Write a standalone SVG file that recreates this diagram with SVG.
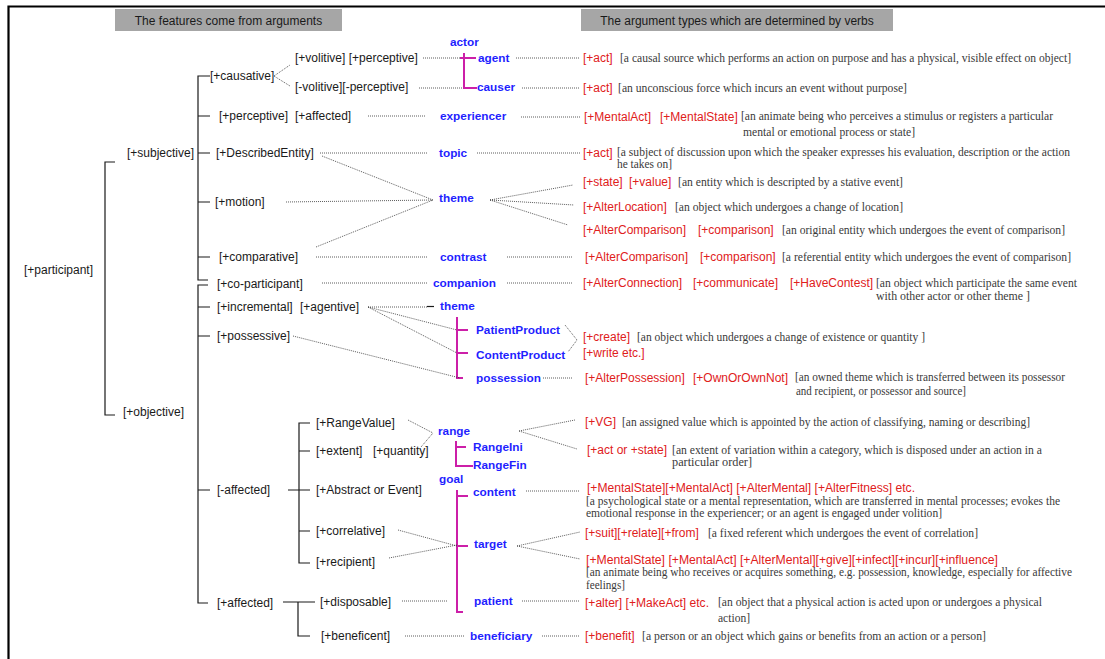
<svg xmlns="http://www.w3.org/2000/svg" width="1105" height="659" viewBox="0 0 1105 659">
<style>
.lb{font-family:"Liberation Sans",Arial,sans-serif;font-size:12px;fill:#1a1a1a}
.hd{font-family:"Liberation Sans",Arial,sans-serif;font-size:12px;fill:#1a1a1a;text-anchor:middle}
.bl{font-family:"Liberation Sans",Arial,sans-serif;font-size:11.8px;font-weight:bold;fill:#1f1fff}
.rd{font-family:"Liberation Sans",Arial,sans-serif;font-size:12px;fill:#e0201b}
.ds{font-family:"Liberation Serif","Times New Roman",serif;font-size:12px;fill:#3a3a3a}
.dot{fill:none;stroke:#333;stroke-width:0.8;stroke-dasharray:1 1}
.sol{fill:none;stroke:#1a1a1a;stroke-width:1.2}
.mg{fill:none;stroke:#cc1fa8;stroke-width:2}
</style>
<rect width="1105" height="659" fill="#fff"/>
<path d="M8.5,659 V6.5 H1105" fill="none" stroke="#000" stroke-width="2.2"/>
<g id="headers">
<rect x="115" y="9" width="227" height="22" fill="#a6a6a6"/>
<text class="hd" x="228.5" y="24.5">The features come from arguments</text>
<rect x="581" y="9" width="312" height="22" fill="#a6a6a6"/>
<text class="hd" x="737" y="24.5">The argument types which are determined by verbs</text>
</g>
<g id="connectors">
<path class="sol" d="M115,162 H105 V415 H115"/>
<path class="sol" d="M210,76 H198 V280 H208 M198,116 H210 M198,153 H210 M198,202 H210 M198,257 H210"/>
<path class="sol" d="M208,285 H198 V603 H208 M198,307 H210 M198,336 H210 M198,490 H210"/>
<path class="sol" d="M288,490 H310 M310,423 H299 V563 H310 M299,451 H310 M299,531 H310"/>
<path class="sol" d="M283,602 H315 M298,602 V636 H310"/>
<path class="sol" d="M427,306.5 H434"/>
<path class="mg" d="M460,58 H476 M464,53 V88 H477"/>
<path class="mg" d="M457,317 V379 M457,330 H468 M457,353 H468 M457,378 H463"/>
<path class="mg" d="M456,441 V466 H473 M456,447 H466"/>
<path class="mg" d="M457,490 V612 H463 M457,496 H468 M457,546 H468"/>
<path class="dot" d="M274,76 L290,65 M274,76 L290,86"/>
<path class="dot" d="M423,58 H460 M419,88 H463 M516,58 H580 M522,88 H580"/>
<path class="dot" d="M368,116 H425 M521,117 H580"/>
<path class="dot" d="M320,153 H427 M322,156 L433,200 M286,202 L433,200 M316,247 L433,200 M316,257 H428 M477,153 H580"/>
<path class="dot" d="M490,200 L573,185 M490,200 L574,205 M490,200 L568,225 M507,257 H573"/>
<path class="dot" d="M322,283 H427 M507,283 H573"/>
<path class="dot" d="M368,307 H427 M368,307 L457,330 M368,307 L457,353 M293,336 L460,378"/>
<path class="dot" d="M565,325 L577,340 L568,352 M543,378 H573"/>
<path class="dot" d="M408,420 L433,433 M421,447 L433,433 M519,431 L575,420 M519,431 L577,449"/>
<path class="dot" d="M526,491 H580 M398,530 L457,546 M389,558 L457,545 M517,546 L580,532 M517,546 L580,559"/>
<path class="dot" d="M402,601 H447 M522,601 H580 M405,636 H465 M542,636 H580"/>
</g>
<g id="n-participant"><text class="lb" x="24" y="274">[+participant]</text></g>
<g id="n-subjective"><text class="lb" x="127" y="157">[+subjective]</text></g>
<g id="n-objective"><text class="lb" x="123" y="416">[+objective]</text></g>
<g id="n-causative"><text class="lb" x="210" y="80">[+causative]</text></g>
<g id="n-volitive"><text class="lb" x="295" y="62">[+volitive] [+perceptive]</text></g>
<g id="n-nonvolitive"><text class="lb" x="295" y="91">[-volitive][-perceptive]</text></g>
<g id="n-perceptive"><text class="lb" y="120"><tspan x="219">[+perceptive]</tspan><tspan x="295">[+affected]</tspan></text></g>
<g id="n-described"><text class="lb" x="216" y="157">[+DescribedEntity]</text></g>
<g id="n-motion"><text class="lb" x="215" y="206">[+motion]</text></g>
<g id="n-comparative"><text class="lb" x="219" y="261">[+comparative]</text></g>
<g id="n-coparticipant"><text class="lb" x="217" y="288">[+co-participant]</text></g>
<g id="n-incremental"><text class="lb" y="311"><tspan x="217">[+incremental]</tspan><tspan x="300">[+agentive]</tspan></text></g>
<g id="n-possessive"><text class="lb" x="217" y="340">[+possessive]</text></g>
<g id="n-naffected"><text class="lb" x="217" y="494">[-affected]</text></g>
<g id="n-paffected"><text class="lb" x="217" y="607">[+affected]</text></g>
<g id="n-rangevalue"><text class="lb" x="316" y="427">[+RangeValue]</text></g>
<g id="n-extent"><text class="lb" y="455"><tspan x="316">[+extent]</tspan><tspan x="373">[+quantity]</tspan></text></g>
<g id="n-abstract"><text class="lb" x="316" y="494">[+Abstract or Event]</text></g>
<g id="n-correlative"><text class="lb" x="316" y="535">[+correlative]</text></g>
<g id="n-recipient"><text class="lb" x="316" y="566">[+recipient]</text></g>
<g id="n-disposable"><text class="lb" x="320" y="606">[+disposable]</text></g>
<g id="n-beneficent"><text class="lb" x="321" y="640">[+beneficent]</text></g>
<g id="a-actor"><text class="bl" x="450" y="46">actor</text></g>
<g id="a-agent"><text class="bl" x="478" y="62">agent</text></g>
<g id="a-causer"><text class="bl" x="477" y="91">causer</text></g>
<g id="a-experiencer"><text class="bl" x="440" y="120">experiencer</text></g>
<g id="a-topic"><text class="bl" x="439" y="157">topic</text></g>
<g id="a-theme"><text class="bl" x="439" y="202">theme</text></g>
<g id="a-contrast"><text class="bl" x="440" y="261">contrast</text></g>
<g id="a-companion"><text class="bl" x="433" y="287">companion</text></g>
<g id="a-theme2"><text class="bl" x="440" y="310">theme</text></g>
<g id="a-patientproduct"><text class="bl" x="476" y="334">PatientProduct</text></g>
<g id="a-contentproduct"><text class="bl" x="476" y="359">ContentProduct</text></g>
<g id="a-possession"><text class="bl" x="476" y="382">possession</text></g>
<g id="a-range"><text class="bl" x="438" y="435">range</text></g>
<g id="a-rangeini"><text class="bl" x="473" y="451">RangeIni</text></g>
<g id="a-rangefin"><text class="bl" x="473" y="469">RangeFin</text></g>
<g id="a-goal"><text class="bl" x="439" y="483">goal</text></g>
<g id="a-content"><text class="bl" x="473" y="496">content</text></g>
<g id="a-target"><text class="bl" x="474" y="548">target</text></g>
<g id="a-patient"><text class="bl" x="474" y="605">patient</text></g>
<g id="a-beneficiary"><text class="bl" x="470" y="640">beneficiary</text></g>
<g id="v-agent"><text class="rd" x="583" y="62">[+act]</text>
<text class="ds" x="620" y="62" textLength="451" lengthAdjust="spacingAndGlyphs">[a causal source which performs an action on purpose and has a physical, visible effect on object]</text></g>
<g id="v-causer"><text class="rd" x="583" y="92">[+act]</text>
<text class="ds" x="618" y="92" textLength="289" lengthAdjust="spacingAndGlyphs">[an unconscious force which incurs an event without purpose]</text></g>
<g id="v-experiencer"><text class="rd" y="121"><tspan x="584">[+MentalAct]</tspan><tspan x="660">[+MentalState]</tspan></text>
<text class="ds" x="741" y="120" textLength="312" lengthAdjust="spacingAndGlyphs">[an animate being who perceives a stimulus or registers a particular</text>
<text class="ds" x="743" y="136" textLength="172" lengthAdjust="spacingAndGlyphs">mental or emotional process or state]</text></g>
<g id="v-topic"><text class="rd" x="583" y="157">[+act]</text>
<text class="ds" x="617" y="156" textLength="453" lengthAdjust="spacingAndGlyphs">[a subject of discussion upon which the speaker expresses his evaluation, description or the action</text>
<text class="ds" x="617" y="168" textLength="55" lengthAdjust="spacingAndGlyphs">he takes on]</text></g>
<g id="v-state"><text class="rd" y="186"><tspan x="583">[+state]</tspan><tspan x="629">[+value]</tspan></text>
<text class="ds" x="678" y="186" textLength="225" lengthAdjust="spacingAndGlyphs">[an entity which is descripted by a stative event]</text></g>
<g id="v-location"><text class="rd" x="583" y="211">[+AlterLocation]</text>
<text class="ds" x="675" y="211" textLength="228" lengthAdjust="spacingAndGlyphs">[an object which undergoes a change of location]</text></g>
<g id="v-comparison1"><text class="rd" y="234"><tspan x="583">[+AlterComparison]</tspan><tspan x="698">[+comparison]</tspan></text>
<text class="ds" x="782" y="234" textLength="283" lengthAdjust="spacingAndGlyphs">[an original entity which undergoes the event of comparison]</text></g>
<g id="v-comparison2"><text class="rd" y="261"><tspan x="585">[+AlterComparison]</tspan><tspan x="700">[+comparison]</tspan></text>
<text class="ds" x="782" y="261" textLength="289" lengthAdjust="spacingAndGlyphs">[a referential entity which undergoes the event of comparison]</text></g>
<g id="v-companion"><text class="rd" y="287"><tspan x="583">[+AlterConnection]</tspan><tspan x="693">[+communicate]</tspan><tspan x="790">[+HaveContest]</tspan></text>
<text class="ds" x="876" y="287" textLength="201" lengthAdjust="spacingAndGlyphs">[an object which participate the same event</text>
<text class="ds" x="876" y="300" textLength="154" lengthAdjust="spacingAndGlyphs">with other actor or other theme ]</text></g>
<g id="v-create"><text class="rd" x="583" y="341">[+create]</text>
<text class="ds" x="637" y="341" textLength="288" lengthAdjust="spacingAndGlyphs">[an object which undergoes a change of existence or quantity ]</text>
<text class="rd" x="583" y="357">[+write etc.]</text></g>
<g id="v-possession"><text class="rd" y="382"><tspan x="585">[+AlterPossession]</tspan><tspan x="693">[+OwnOrOwnNot]</tspan></text>
<text class="ds" x="795" y="381" textLength="270" lengthAdjust="spacingAndGlyphs">[an owned theme which is transferred between its possessor</text>
<text class="ds" x="796" y="395" textLength="170" lengthAdjust="spacingAndGlyphs">and recipient, or possessor and source]</text></g>
<g id="v-vg"><text class="rd" x="585" y="426">[+VG]</text>
<text class="ds" x="622" y="426" textLength="408" lengthAdjust="spacingAndGlyphs">[an assigned value which is appointed by the action of classifying, naming or describing]</text></g>
<g id="v-range"><text class="rd" x="587" y="454">[+act or +state]</text>
<text class="ds" x="672" y="454" textLength="370" lengthAdjust="spacingAndGlyphs">[an extent of variation within a category, which is disposed under an action in a</text>
<text class="ds" x="672" y="466" textLength="80" lengthAdjust="spacingAndGlyphs">particular order]</text></g>
<g id="v-content"><text class="rd" x="587" y="492" textLength="328" lengthAdjust="spacingAndGlyphs">[+MentalState][+MentalAct] [+AlterMental] [+AlterFitness] etc.</text>
<text class="ds" x="586" y="505" textLength="474" lengthAdjust="spacingAndGlyphs">[a psychological state or a mental representation, which are transferred in mental processes; evokes the</text>
<text class="ds" x="586" y="517" textLength="356" lengthAdjust="spacingAndGlyphs">emotional response in the experiencer; or an agent is engaged under volition]</text></g>
<g id="v-target1"><text class="rd" x="585" y="537">[+suit][+relate][+from]</text>
<text class="ds" x="708" y="537" textLength="270" lengthAdjust="spacingAndGlyphs">[a fixed referent which undergoes the event of correlation]</text></g>
<g id="v-target2"><text class="rd" x="586" y="564" textLength="412" lengthAdjust="spacingAndGlyphs">[+MentalState] [+MentalAct] [+AlterMental][+give][+infect][+incur][+influence]</text>
<text class="ds" x="586" y="576" textLength="486" lengthAdjust="spacingAndGlyphs">[an animate being who receives or acquires something, e.g. possession, knowledge, especially for affective</text>
<text class="ds" x="586" y="589" textLength="39" lengthAdjust="spacingAndGlyphs">feelings]</text></g>
<g id="v-patient"><text class="rd" x="585" y="607" textLength="124" lengthAdjust="spacingAndGlyphs">[+alter]  [+MakeAct] etc.</text>
<text class="ds" x="718" y="606" textLength="324" lengthAdjust="spacingAndGlyphs">[an object that a physical action is acted upon or undergoes a physical</text>
<text class="ds" x="718" y="622" textLength="32" lengthAdjust="spacingAndGlyphs">action]</text></g>
<g id="v-benefit"><text class="rd" x="585" y="640">[+benefit]</text>
<text class="ds" x="642" y="640" textLength="344" lengthAdjust="spacingAndGlyphs">[a person or an object which gains or benefits from an action or a person]</text></g>
</svg>
